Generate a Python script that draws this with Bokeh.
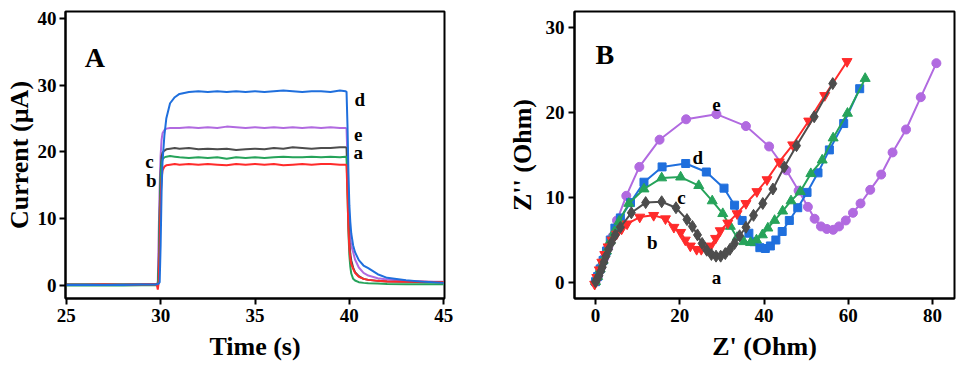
from bokeh.plotting import figure
from bokeh.layouts import row
from bokeh.models import Range1d, Label, FixedTicker
from bokeh.embed import file_html
from bokeh.resources import INLINE

FONT = "Liberation Serif"

# ---------------- Panel A: photocurrent vs time ----------------
time_s = [25.0, 26.0, 27.0, 28.0, 29.0, 29.7, 29.8, 29.85, 29.9, 29.95,
          30.0, 30.05, 30.1, 30.2, 30.3, 30.5, 30.75, 31.0, 31.5, 32.0,
          32.5, 33.0, 33.5, 34.0, 34.5, 35.0, 35.5, 36.0, 36.5, 37.0,
          37.5, 38.0, 38.5, 39.0, 39.5, 39.8, 39.85, 39.9, 39.95, 40.0,
          40.05, 40.1, 40.2, 40.3, 40.5, 40.75, 41.0, 41.5, 42.0, 43.0,
          44.0, 45.0]

cur_a = [0.2, 0.2, 0.2, 0.2, 0.2, 0.2, 0.2, 0.1, 3.0, 11.0,
         17.0, 19.3, 19.9, 20.2, 20.4, 20.5, 20.6, 20.5, 20.6, 20.4,
         20.5, 20.4, 20.5, 20.3, 20.4, 20.5, 20.4, 20.6, 20.5, 20.7,
         20.6, 20.5, 20.6, 20.6, 20.7, 20.7, 20.6, 16.0, 10.0, 6.5,
         4.8, 3.8, 2.7, 2.0, 1.4, 1.0, 0.85, 0.7, 0.6, 0.55,
         0.5, 0.5]
cur_b = [0.1, 0.1, 0.15, 0.1, 0.15, 0.2, 0.1, -0.6, 0.5, 6.0,
         13.0, 16.0, 17.2, 17.8, 18.0, 18.1, 18.2, 18.1, 18.2, 18.1,
         18.2, 18.1, 18.0, 18.2, 18.1, 18.2, 18.1, 18.2, 18.0, 18.1,
         18.2, 18.1, 18.2, 18.2, 18.1, 18.1, 18.0, 13.5, 8.5, 5.5,
         4.0, 3.2, 2.5, 1.9, 1.3, 1.0, 0.85, 0.7, 0.6, 0.55,
         0.55, 0.5]
cur_c = [0.0, 0.0, 0.0, 0.0, 0.05, 0.05, 0.05, 0.0, 2.5, 10.0,
         16.0, 18.3, 18.9, 19.2, 19.3, 19.4, 19.3, 19.2, 19.1, 19.2,
         19.1, 19.2, 19.0, 19.2, 19.1, 19.2, 19.1, 19.2, 19.3, 19.2,
         19.2, 19.3, 19.2, 19.3, 19.2, 19.3, 19.2, 14.0, 8.0, 4.5,
         2.8, 1.8, 1.0, 0.75, 0.5, 0.4, 0.35, 0.3, 0.25, 0.2,
         0.2, 0.2]
cur_d = [0.1, 0.1, 0.1, 0.1, 0.15, 0.15, 0.2, 0.2, 0.3, 0.5,
         6.0, 14.0, 18.5, 22.5, 25.0, 27.3, 28.2, 28.7, 29.0, 29.1,
         29.0, 29.1, 29.0, 29.1, 29.0, 29.1, 29.0, 29.1, 29.2, 29.1,
         29.0, 29.1, 29.1, 29.0, 29.2, 29.1, 29.0, 24.0, 17.0, 12.0,
         9.5, 7.8, 6.0, 5.0, 3.8, 3.0, 2.6, 1.7, 1.15, 0.8,
         0.55, 0.4]
cur_e = [0.1, 0.1, 0.1, 0.1, 0.1, 0.1, 0.1, 0.5, 8.0, 15.0,
         19.5, 21.8, 22.8, 23.3, 23.5, 23.6, 23.6, 23.6, 23.7, 23.6,
         23.7, 23.6, 23.8, 23.7, 23.6, 23.7, 23.6, 23.7, 23.6, 23.7,
         23.6, 23.7, 23.6, 23.7, 23.6, 23.6, 23.5, 19.0, 13.0, 9.0,
         7.0, 6.0, 5.0, 3.9, 2.7, 1.9, 1.5, 1.1, 0.9, 0.7,
         0.6, 0.55]

time_ticks = [25, 30, 35, 40, 45]
current_ticks = [0, 10, 20, 30, 40]

# ---------------- Panel B: Nyquist plots ----------------
zre_a = [0.0, 0.4, 0.8, 1.2, 1.6, 2.0, 2.5, 3.1, 3.8, 4.7, 5.9, 8.5, 11.9, 15.7, 19.1,
         21.7, 23.0, 24.2, 25.3, 26.4, 27.5, 28.6, 29.7, 30.8, 31.9, 33.0, 34.2, 35.7,
         37.5, 39.7, 42.1, 44.8, 47.7, 51.9, 56.3]
zim_a = [0.1, 0.4, 0.8, 1.3, 1.8, 2.4, 3.1, 3.9, 4.7, 5.6, 6.5, 8.2, 9.4, 9.5, 8.8,
         7.4, 6.6, 5.6, 4.6, 3.8, 3.3, 3.1, 3.1, 3.4, 3.9, 4.6, 5.5, 6.5,
         7.9, 9.3, 11.0, 13.6, 16.1, 19.5, 23.4]
zre_b = [-0.2, 0.3, 0.9, 1.5, 2.2, 3.0, 3.9, 5.0, 6.2, 7.5, 10.5, 13.8, 16.6, 18.6, 20.2,
         21.3, 22.5, 24.0, 25.1, 26.3, 27.3, 28.5, 29.6, 31.4, 33.6, 35.7, 38.3, 40.7,
         43.6, 46.8, 50.6, 54.4, 59.7]
zim_b = [-0.2, 0.6, 1.5, 2.4, 3.3, 4.2, 5.0, 5.7, 6.3, 6.9, 7.7, 7.9, 7.5, 6.5, 5.9,
         5.0, 4.3, 3.9, 3.9, 4.0, 4.3, 5.2, 6.1, 7.0, 8.1, 9.3, 10.7, 12.1,
         14.2, 16.2, 19.0, 22.0, 26.0]
zre_c = [0.0, 0.5, 1.1, 1.8, 2.6, 3.5, 4.5, 5.6, 7.9, 11.5, 15.7, 20.2, 24.5, 27.7, 30.2,
         32.0, 33.6, 35.2, 36.8, 38.2, 39.6, 40.9, 42.5, 44.4, 46.4, 48.6, 51.1, 53.8,
         56.4, 59.8, 64.0]
zim_c = [0.1, 0.7, 1.6, 2.6, 3.7, 4.9, 6.0, 7.2, 9.3, 11.0, 12.3, 12.4, 11.4, 9.6, 8.1,
         6.6, 5.3, 4.8, 4.7, 5.0, 5.6, 6.4, 7.3, 8.4, 9.6, 10.7, 12.8, 14.4,
         17.0, 19.9, 24.0]
zre_d = [0.0, 0.5, 1.1, 1.8, 2.6, 3.5, 4.6, 5.9, 8.3, 11.5, 15.8, 21.4, 26.3, 30.5, 33.0,
         34.8, 36.4, 37.6, 39.0, 40.3, 41.5, 42.8, 44.3, 46.0, 48.0, 50.2, 52.8, 55.5,
         58.9, 62.7]
zim_d = [0.1, 0.7, 1.6, 2.6, 3.7, 5.0, 6.4, 7.6, 9.4, 11.8, 13.6, 14.0, 13.0, 11.1, 9.1,
         7.3, 5.8, 4.8, 4.1, 4.0, 4.3, 5.0, 6.0, 7.3, 8.8, 10.6, 12.9, 15.6,
         18.7, 22.8]
zre_e = [0.0, 0.6, 1.3, 2.1, 3.0, 4.0, 5.1, 7.3, 10.4, 15.2, 21.5, 28.7, 35.7, 41.2, 45.3,
         48.2, 50.4, 52.0, 53.5, 54.9, 56.4, 57.8, 59.4, 61.1, 62.9, 65.2, 67.8, 70.5,
         73.7, 77.2, 80.9]
zim_e = [0.1, 0.8, 1.8, 2.9, 4.1, 5.4, 7.3, 10.2, 13.6, 16.8, 19.2, 19.8, 18.4, 16.0, 13.2,
         10.8, 8.9, 7.5, 6.6, 6.3, 6.2, 6.6, 7.3, 8.2, 9.3, 10.9, 12.7, 15.3,
         18.0, 21.8, 25.8]

zre_ticks = [0, 20, 40, 60, 80]
zim_ticks = [0, 10, 20, 30]

COL = {"a": "#4d4d4d", "b": "#ff2b2b", "c": "#26a35a", "d": "#1f6fdd", "e": "#b16ae0"}


def style(p, xticks, yticks, xlabel, ylabel, ylab_standoff):
    p.outline_line_color = "black"
    p.outline_line_width = 2
    p.outline_line_alpha = 1.0
    p.grid.visible = False
    p.xaxis.ticker = FixedTicker(ticks=xticks)
    p.yaxis.ticker = FixedTicker(ticks=yticks)
    p.xaxis.axis_label = xlabel
    p.yaxis.axis_label = ylabel
    for ax in (p.xaxis[0], p.yaxis[0]):
        ax.axis_line_color = "black"
        ax.axis_line_width = 2
        ax.major_tick_line_color = "black"
        ax.major_tick_line_width = 2
        ax.major_tick_out = 6
        ax.major_tick_in = 0
        ax.minor_tick_line_color = None
        ax.major_label_text_font = FONT
        ax.major_label_text_font_size = "19px"
        ax.major_label_text_font_style = "bold"
        ax.major_label_text_color = "black"
        ax.major_label_standoff = 4
        ax.axis_label_text_font = FONT
        ax.axis_label_text_font_size = "26px"
        ax.axis_label_text_font_style = "bold"
        ax.axis_label_text_color = "black"
    p.xaxis[0].axis_label_standoff = 7
    p.yaxis[0].axis_label_standoff = ylab_standoff


def add_label(p, x, y, text, size="19px"):
    p.add_layout(Label(x=x, y=y, text=text, text_font=FONT, text_font_size=size,
                       text_font_style="bold", text_color="black",
                       text_align="center", text_baseline="alphabetic"))


# ---------- figure A ----------
pA = figure(width=480, height=368, output_backend="svg", toolbar_location=None,
            x_range=Range1d(24.96, 45.04), y_range=Range1d(-1.94, 41.04),
            min_border_left=65, min_border_right=36, min_border_top=10, min_border_bottom=70,
            background_fill_color="white", border_fill_color="white")
style(pA, time_ticks, current_ticks, "Time (s)", "Current (µA)", 1)
pA.yaxis[0].major_label_standoff = 3
for key, ys in (("e", cur_e), ("a", cur_a), ("c", cur_c), ("b", cur_b), ("d", cur_d)):
    pA.line(time_s, ys, line_color=COL[key], line_width=2)

add_label(pA, 26.51, 34.15, "A", "28px")
add_label(pA, 40.55, 27.88, "d")
add_label(pA, 40.47, 22.63, "e")
add_label(pA, 40.47, 19.99, "a")
add_label(pA, 29.41, 18.64, "c")
add_label(pA, 29.50, 15.70, "b")

# ---------- figure B ----------
pB = figure(width=479, height=368, output_backend="svg", toolbar_location=None,
            x_range=Range1d(-4.99, 85.2), y_range=Range1d(-1.88, 31.88),
            min_border_left=94, min_border_right=5, min_border_top=11, min_border_bottom=70,
            background_fill_color="white", border_fill_color="white")
style(pB, zre_ticks, zim_ticks, "Z' (Ohm)", "Z'' (Ohm)", 6)

series = [
    ("e", zre_e, zim_e, "circle", 9),
    ("d", zre_d, zim_d, "square", 8),
    ("c", zre_c, zim_c, "triangle", 10),
    ("b", zre_b, zim_b, "inverted_triangle", 10),
    ("a", zre_a, zim_a, "diamond", 12),
]
for key, xs, ys, mk, sz in series:
    pB.line(xs, ys, line_color=COL[key], line_width=2)
    pB.scatter(xs, ys, marker=mk, size=sz, fill_color=COL[key], line_color=COL[key])

add_label(pB, 2.21, 26.8, "B", "28px")
add_label(pB, 28.72, 20.89, "e")
add_label(pB, 24.30, 14.68, "d")
add_label(pB, 20.40, 10.04, "c")
add_label(pB, 13.45, 4.65, "b")
add_label(pB, 28.72, 0.58, "a")

layout = row(pA, pB)
open("out.html", "w").write(file_html(layout, INLINE))
